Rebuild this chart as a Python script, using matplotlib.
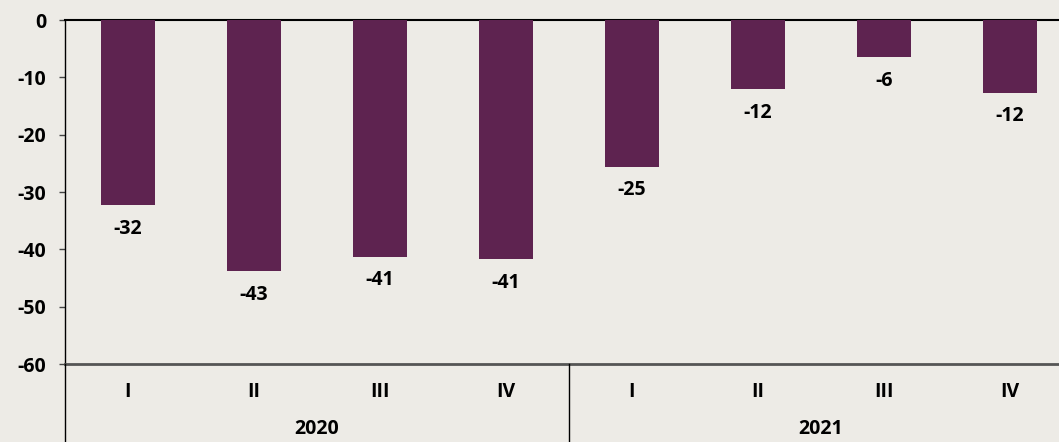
import matplotlib
matplotlib.use('Agg')
import matplotlib.pyplot as plt
from matplotlib.lines import Line2D

# Data
quarters = ['I', 'II', 'III', 'IV', 'I', 'II', 'III', 'IV']
years = ['2020', '2021']
values = [-32.3, -43.8, -41.3, -41.7, -25.6, -12.1, -6.5, -12.7]
labels = ['-32', '-43', '-41', '-41', '-25', '-12', '-6', '-12']

BG = '#EDEBE6'
BAR = '#5E2350'
FONT = 'Open Sans'
FS = 14

W, H = 1059, 442
fig = plt.figure(figsize=(W / 100, H / 100), dpi=100, facecolor=BG)
# category width 126 px starting at x=65; the right end runs past the image
ax = fig.add_axes([65 / W, (H - 364) / H, 8 * 126 / W, (364 - 20) / H])
ax.set_facecolor(BG)

x = range(len(values))
ax.bar(x, values, width=0.435, color=BAR, zorder=3)

for xi, v, lab in zip(x, values, labels):
    ax.annotate(lab, (xi, v), xytext=(0, -17), textcoords='offset points',
                ha='center', va='center', fontsize=FS, fontweight='bold',
                family=FONT, color='black')

ax.set_xlim(-0.5, len(values) - 0.5)
ax.set_ylim(-60, 0)
ax.set_yticks(range(-60, 1, 10))
ax.set_yticklabels([str(t) for t in range(-60, 1, 10)], fontsize=FS,
                   fontweight='bold', family=FONT)
ax.tick_params(axis='y', length=4.5, width=1, pad=9, color='#444444')
ax.set_xticks(list(x))
ax.set_xticklabels(quarters, fontsize=FS, fontweight='bold', family=FONT)
ax.tick_params(axis='x', length=0, pad=13)

ax.spines['right'].set_visible(False)
ax.spines['top'].set_color('black')
ax.spines['top'].set_linewidth(1.5)
ax.spines['bottom'].set_color('#555555')
ax.spines['bottom'].set_linewidth(2)
ax.spines['left'].set_color('black')
ax.spines['left'].set_linewidth(1)

# year group labels
for i, yr in enumerate(years):
    ax.text(i * 4 + 1.5, -0.19, yr, transform=ax.get_xaxis_transform(),
            ha='center', va='center', fontsize=FS, fontweight='bold',
            family=FONT)

# group separators running below the axis
for xs in (65, 569):
    fig.add_artist(Line2D([xs / W, xs / W], [0, (H - 364) / H],
                          color='black', lw=1))

fig.savefig('out.png', dpi=100, facecolor=BG)
